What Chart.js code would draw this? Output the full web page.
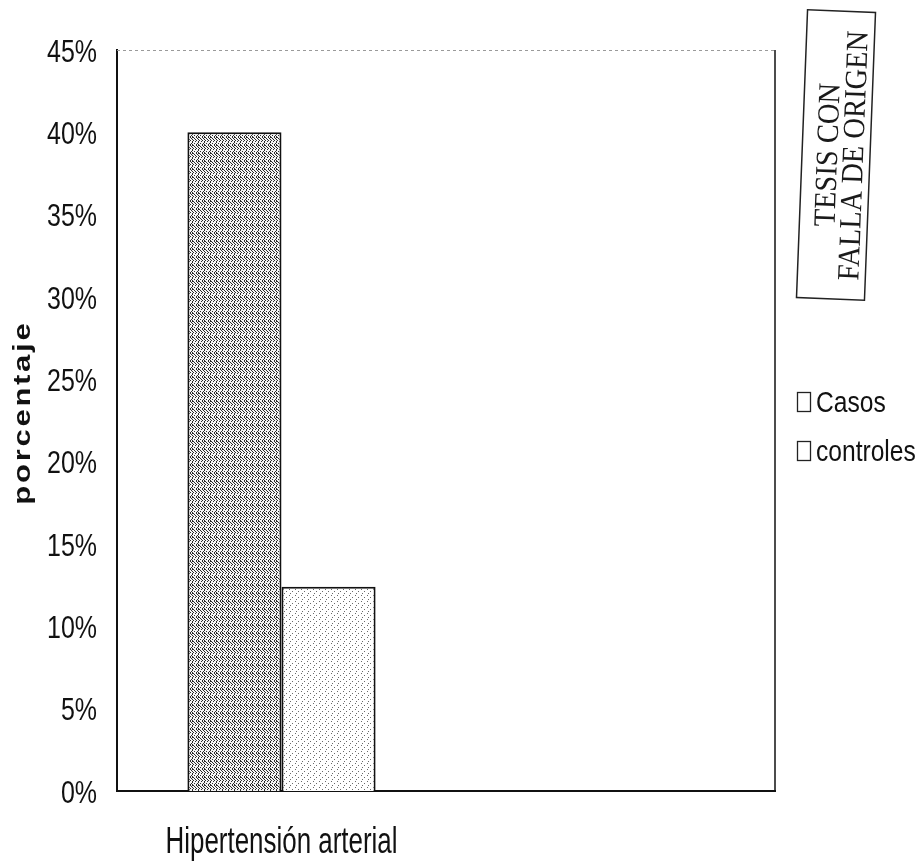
<!DOCTYPE html>
<html>
<head>
<meta charset="utf-8">
<script src="https://cdn.jsdelivr.net/npm/chart.js@4.4.1/dist/chart.umd.min.js"></script>
<style>
  html, body { margin: 0; padding: 0; background: #ffffff; }
  #wrap { width: 921px; height: 862px; }
</style>
</head>
<body>
<div id="wrap"><canvas id="c" width="921" height="862"></canvas></div>
<script>
// Data
const categories = ['Hipertensión arterial', ''];
const seriesNames = ['Casos', 'controles'];
const casos = [40, null];
const controles = [12.4, null];
const yTickStep = 5;
const yMin = 0;
const yMax = 45;

const SANS = '"Liberation Sans", Arial, sans-serif';

// Text drawn horizontally condensed, like a narrow typeface
function narrowText(ctx, text, x, y, size, squeeze, align, baseline) {
  ctx.save();
  ctx.translate(x, y);
  ctx.scale(squeeze, 1);
  ctx.font = size + 'px ' + SANS;
  ctx.fillStyle = '#111';
  ctx.textAlign = align;
  ctx.textBaseline = baseline;
  ctx.fillText(text, 0, 0);
  ctx.restore();
}

// Stippled fills for the two series
function makePattern(w, h, bg, ink, dots) {
  const cv = document.createElement('canvas');
  cv.width = w; cv.height = h;
  const g = cv.getContext('2d');
  g.fillStyle = bg; g.fillRect(0, 0, w, h);
  g.fillStyle = ink;
  dots.forEach(([x, y]) => g.fillRect(x, y, 1, 1));
  return g.createPattern(cv, 'repeat');
}
const casosFill = makePattern(6, 8, '#f4f4f4', '#2a2a2a', [
  [0,0],[0,1],[0,3],[0,5],[0,6],[1,4],[2,2],[2,7],[3,3],[3,5],[4,0],[4,1],[4,4],[5,7],[1,1],[5,2]
]);
const controlesFill = makePattern(6, 6, '#ffffff', '#6a6a6a', [
  [1,1],[4,3],[2,5]
]);

// Frame top/right edges of the plot box
const framePlugin = {
  id: 'frame',
  afterDraw(chart) {
    const { ctx, chartArea: a } = chart;
    ctx.save();
    ctx.strokeStyle = '#9a9a9a';
    ctx.lineWidth = 1;
    ctx.setLineDash([3, 3]);
    ctx.beginPath();
    ctx.moveTo(a.left, a.top + 0.5);
    ctx.lineTo(a.right, a.top + 0.5);
    ctx.stroke();
    ctx.setLineDash([]);
    ctx.strokeStyle = '#111';
    ctx.lineWidth = 1.5;
    ctx.beginPath();
    ctx.moveTo(a.right, a.top);
    ctx.lineTo(a.right, a.bottom);
    ctx.stroke();
    ctx.restore();
  }
};

// Tick labels placed from the chart's own scales, in a condensed face
const tickLabelPlugin = {
  id: 'tickLabels',
  afterDraw(chart) {
    const { ctx, scales } = chart;
    const ys = scales.y;
    ys.ticks.forEach(t => {
      const py = ys.getPixelForValue(t.value);
      narrowText(ctx, t.value + '%', 97, py + 11.5, 32, 0.78, 'right', 'alphabetic');
    });
    const xs = scales.x;
    chart.data.labels.forEach((lab, i) => {
      if (!lab) return;
      const px = xs.getPixelForValue(i);
      narrowText(ctx, lab, px, 853, 36, 0.72, 'center', 'alphabetic');
    });
  }
};

// Rotated, widened y-axis title
const yTitlePlugin = {
  id: 'ytitle',
  afterDraw(chart) {
    const { ctx } = chart;
    ctx.save();
    ctx.translate(24, 414);
    ctx.rotate(-Math.PI / 2);
    ctx.scale(1.35, 1);
    ctx.font = 'bold 23px ' + SANS;
    ctx.letterSpacing = '2px';
    ctx.fillStyle = '#111';
    ctx.textAlign = 'center';
    ctx.textBaseline = 'middle';
    ctx.fillText('porcentaje', 1, 0);
    ctx.restore();
  }
};

// Legend with empty boxes on the right
const legendPlugin = {
  id: 'sideLegend',
  afterDraw(chart) {
    const { ctx } = chart;
    const baselines = [412, 461];
    chart.data.datasets.forEach((ds, i) => {
      const b = baselines[i];
      ctx.save();
      ctx.fillStyle = '#fff';
      ctx.fillRect(797, b - 20, 13, 20);
      ctx.strokeStyle = '#222';
      ctx.lineWidth = 1.3;
      ctx.strokeRect(797.5, b - 19.5, 13, 19);
      ctx.restore();
      narrowText(ctx, ds.label, 816, b, 30, 0.82, 'left', 'alphabetic');
    });
  }
};

// Boxed stamp in the top right corner
const stampPlugin = {
  id: 'stamp',
  afterDraw(chart) {
    const { ctx } = chart;
    ctx.save();
    ctx.translate(836, 155);
    ctx.rotate(2.2 * Math.PI / 180);
    ctx.strokeStyle = '#222';
    ctx.lineWidth = 1.5;
    ctx.strokeRect(-34, -144, 68, 288);
    ctx.rotate(-Math.PI / 2);
    ctx.scale(0.92, 1);
    ctx.font = '31px "Liberation Serif", "DejaVu Serif", serif';
    ctx.fillStyle = '#1a1a1a';
    ctx.textAlign = 'center';
    ctx.textBaseline = 'middle';
    ctx.fillText('TESIS CON', 0, -7);
    ctx.fillText('FALLA DE ORIGEN', 0, 19);
    ctx.restore();
  }
};

new Chart(document.getElementById('c'), {
  type: 'bar',
  data: {
    labels: categories,
    datasets: [
      {
        label: seriesNames[0],
        data: casos,
        backgroundColor: casosFill,
        borderColor: '#111',
        borderWidth: 2,
        barPercentage: 1,
        categoryPercentage: 0.572
      },
      {
        label: seriesNames[1],
        data: controles,
        backgroundColor: controlesFill,
        borderColor: '#111',
        borderWidth: 2,
        barPercentage: 1,
        categoryPercentage: 0.572
      }
    ]
  },
  options: {
    responsive: false,
    devicePixelRatio: 1,
    animation: false,
    layout: { padding: { left: 0, top: 50, right: 146, bottom: 0 } },
    plugins: {
      legend: { display: false },
      tooltip: { enabled: false },
      title: { display: false }
    },
    scales: {
      x: {
        type: 'category',
        offset: true,
        grid: { display: false, drawTicks: false },
        border: { display: true, color: '#111', width: 2 },
        ticks: { display: false },
        afterFit(scale) { scale.height = 71; }
      },
      y: {
        min: yMin,
        max: yMax,
        grid: { display: false, drawTicks: false },
        border: { display: true, color: '#111', width: 2 },
        ticks: { display: false, stepSize: yTickStep },
        afterFit(scale) { scale.width = 117; }
      }
    }
  },
  plugins: [framePlugin, tickLabelPlugin, yTitlePlugin, legendPlugin, stampPlugin]
});
</script>
</body>
</html>
